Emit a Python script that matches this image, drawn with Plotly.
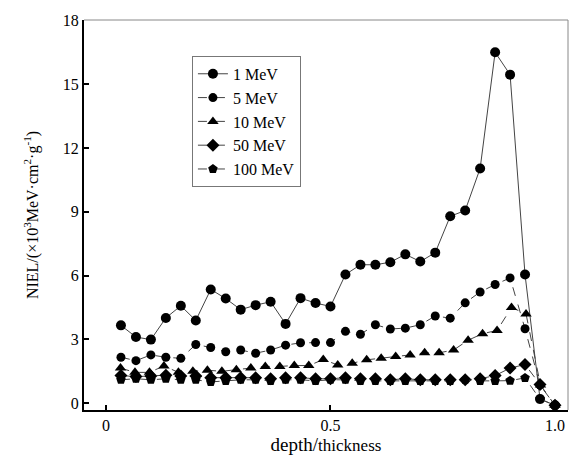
import plotly.graph_objects as go

depth_30 = [0.0333, 0.0667, 0.1, 0.1333, 0.1667, 0.2, 0.2333, 0.2667, 0.3, 0.3333,
            0.3667, 0.4, 0.4333, 0.4667, 0.5, 0.5333, 0.5667, 0.6, 0.6333, 0.6667,
            0.7, 0.7333, 0.7667, 0.8, 0.8333, 0.8667, 0.9, 0.9333, 0.9667, 1.0]
depth_31 = [0.0323, 0.0645, 0.0968, 0.129, 0.1613, 0.1935, 0.2258, 0.2581, 0.2903, 0.3226,
            0.3548, 0.3871, 0.4194, 0.4516, 0.4839, 0.5161, 0.5484, 0.5806, 0.6129, 0.6452,
            0.6774, 0.7097, 0.7419, 0.7742, 0.8065, 0.8387, 0.871, 0.9032, 0.9355, 0.9677, 1.0]

niel_1mev = [3.66, 3.11, 2.99, 4.01, 4.58, 3.89, 5.35, 4.92, 4.40, 4.61,
             4.77, 3.73, 4.94, 4.71, 4.55, 6.05, 6.51, 6.51, 6.63, 7.00,
             6.66, 7.08, 8.79, 9.06, 11.04, 16.5, 15.45, 6.05, 0.2, -0.1]
niel_5mev = [2.16, 2.00, 2.27, 2.16, 2.11, 2.76, 2.62, 2.42, 2.50, 2.35,
             2.50, 2.73, 2.84, 2.85, 2.85, 3.38, 3.24, 3.69, 3.49, 3.53,
             3.69, 4.10, 4.00, 4.72, 5.23, 5.58, 5.89, 3.50, 0.85, -0.1]
niel_10mev = [1.65, 1.45, 1.45, 1.75, 1.45, 1.50, 1.55, 1.50, 1.57, 1.65,
              1.73, 1.73, 1.77, 1.77, 2.05, 1.80, 1.88, 2.04, 2.11, 2.19,
              2.27, 2.37, 2.37, 2.50, 2.96, 3.27, 3.42, 4.50, 4.20, 0.85, -0.1]
niel_50mev = [1.30, 1.25, 1.28, 1.32, 1.28, 1.28, 1.20, 1.20, 1.20, 1.20,
              1.15, 1.20, 1.20, 1.15, 1.15, 1.20, 1.15, 1.15, 1.10, 1.15,
              1.10, 1.10, 1.10, 1.10, 1.15, 1.30, 1.65, 1.82, 0.88, -0.1]
niel_100mev = [1.10, 1.15, 1.10, 1.15, 1.10, 1.10, 1.00, 1.05, 1.10, 1.10,
               1.05, 1.10, 1.10, 1.05, 1.10, 1.10, 1.05, 1.05, 1.05, 1.05,
               1.05, 1.05, 1.05, 1.10, 1.05, 1.05, 1.06, 1.19, 0.19, -0.1]

x_ticks = [0, 0.5, 1.0]
x_tick_labels = ["0", "0.5", "1.0"]
y_ticks = [0, 3, 6, 9, 12, 15, 18]

series = [
    ("1 MeV", depth_30, niel_1mev, "circle", 10, "solid"),
    ("5 MeV", depth_30, niel_5mev, "circle", 9, "dash"),
    ("10 MeV", depth_31, niel_10mev, "triangle-up", 10, "dash"),
    ("50 MeV", depth_30, niel_50mev, "diamond", 10, "dash"),
    ("100 MeV", depth_30, niel_100mev, "pentagon", 10, "dash"),
]

fig = go.Figure()
for name, xs, ys, sym, size, dash in series:
    fig.add_trace(go.Scatter(
        x=xs, y=ys, name=name, mode="lines+markers",
        line=dict(color="#444444", width=1, dash=dash),
        marker=dict(symbol=sym, size=size, color="black"),
    ))

font_family = "Liberation Serif"
fig.update_layout(
    width=581, height=470,
    margin=dict(l=84, r=13, t=16, b=60),
    paper_bgcolor="white", plot_bgcolor="white",
    font=dict(family=font_family, size=15, color="black"),
    showlegend=True,
    legend=dict(
        x=0.223, y=0.908, xanchor="left", yanchor="top",
        bordercolor="#777777", borderwidth=1, bgcolor="white",
        font=dict(family=font_family, size=16, color="black"),
        itemwidth=30, tracegroupgap=0,
    ),
    xaxis=dict(
        range=[-0.049, 1.029], tickvals=x_ticks, ticktext=x_tick_labels,
        ticks="inside", ticklen=5, tickwidth=2, tickcolor="black",
        showline=True, linecolor="black", linewidth=2, mirror=False,
        showgrid=False, zeroline=False,
        tickfont=dict(family=font_family, size=16),
        title=dict(text="depth/<span style='font-size:17px'>thickness</span>",
                   font=dict(family=font_family, size=19), standoff=4),
    ),
    yaxis=dict(
        range=[-0.32, 18.02], tickvals=y_ticks,
        ticks="inside", ticklen=5, tickwidth=2, tickcolor="black",
        showline=True, linecolor="black", linewidth=2, mirror=False,
        showgrid=False, zeroline=False,
        tickfont=dict(family=font_family, size=16),
        title=dict(text="NIEL/(×10<sup>3</sup>MeV·cm<sup>2</sup>·g<sup>-1</sup>)",
                   font=dict(family=font_family, size=16), standoff=20),
    ),
    shapes=[
        dict(type="line", xref="paper", yref="paper", x0=0, x1=1, y0=1, y1=1,
             line=dict(color="#888888", width=1)),
        dict(type="line", xref="paper", yref="paper", x0=1, x1=1, y0=0, y1=1,
             line=dict(color="#888888", width=1)),
    ],
)

fig.write_html("out.html")
